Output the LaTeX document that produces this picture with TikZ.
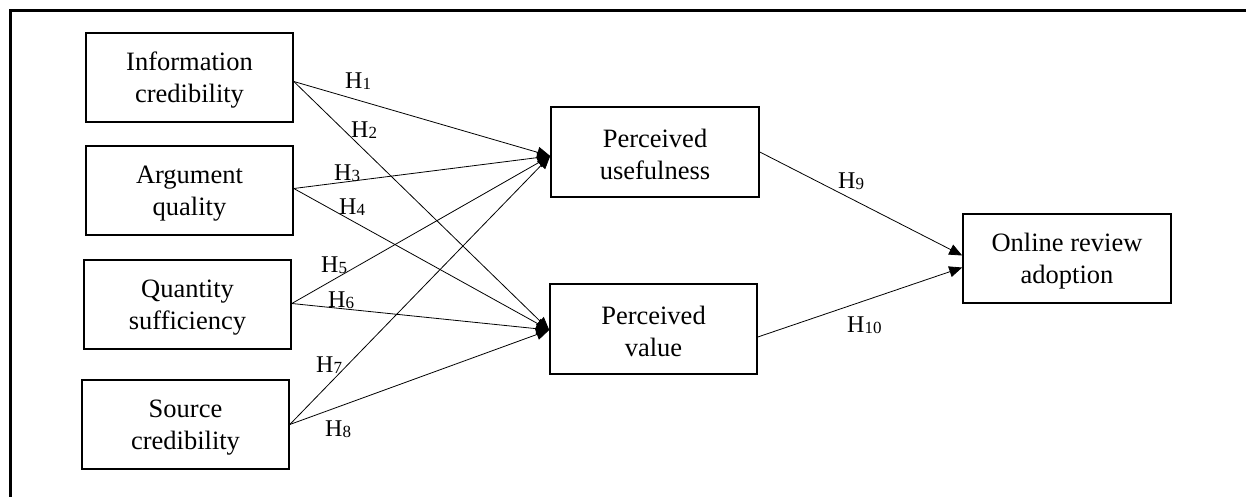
\documentclass[tikz,border=0pt]{standalone}
\usepackage{fontspec}
\setmainfont{Liberation Serif}
\usetikzlibrary{arrows.meta}
\newcommand{\hyp}[1]{H\raisebox{-1.5pt}{\fontsize{17}{17}\selectfont #1}}
\newcommand{\lowstrut}{\rule{0pt}{23pt}}
\tikzset{
  box/.style={draw, line width=1.6pt, minimum width=207pt, minimum height=89pt, inner sep=0pt,
    align=center, font=\fontsize{26.5}{32}\selectfont},
  conn/.style={line width=0.8pt, -{Triangle[length=13pt,width=11pt]}},
  hlab/.style={anchor=west, inner sep=0pt, font=\fontsize{24}{26}\selectfont}
}
\begin{document}
\begin{tikzpicture}[x=1pt,y=-1pt]
\useasboundingbox (0,0) rectangle (1246,497);
\begin{scope}
\clip (0,0) rectangle (1246,497);
\draw[line width=2.7pt] (10.5,530) -- (10.5,10.5) -- (1290,10.5);
\end{scope}
\node[box] (ic) at (189.5,77.5) {\lowstrut Information\\credibility};
\node[box] (aq) at (189.5,190.5) {\lowstrut Argument\\quality};
\node[box] (qs) at (187.5,304.5) {\lowstrut Quantity\\sufficiency};
\node[box] (sc) at (185.5,424.5) {\lowstrut Source\\credibility};
\node[box, minimum width=208pt, minimum height=90pt] (pu) at (655,152) {\lowstrut Perceived\\usefulness};
\node[box, minimum height=90pt] (pv) at (653.5,329) {\lowstrut Perceived\\value};
\node[box, minimum width=208pt] (ora) at (1067,258.5) {\lowstrut Online review\\adoption};
\coordinate (puin) at ([yshift=-4pt]pu.west);
\coordinate (pvin) at ([yshift=-1pt]pv.west);
\coordinate (icout) at ([yshift=-4pt]ic.east);
\coordinate (aqout) at ([yshift=2pt]aq.east);
\coordinate (qsout) at ([yshift=1pt]qs.east);
\coordinate (pvout) at ([yshift=-8pt]pv.east);
\coordinate (oraa) at ([yshift=3pt]ora.west);
\coordinate (orab) at ([yshift=-9pt]ora.west);
\draw[conn] (icout) -- (puin);
\draw[conn] (icout) -- (pvin);
\draw[conn] (aqout) -- (puin);
\draw[conn] (aqout) -- (pvin);
\draw[conn] (qsout) -- (puin);
\draw[conn] (qsout) -- (pvin);
\draw[conn] (sc.east) -- (puin);
\draw[conn] (sc.east) -- (pvin);
\draw[conn] (pu.east) -- (oraa);
\draw[conn] (pvout) -- (orab);
\node[hlab] (h1) at (345,81) {\hyp{1}};
\node[hlab] (h2) at (351,130) {\hyp{2}};
\node[hlab] (h3) at (334,173) {\hyp{3}};
\node[hlab] (h4) at (339,207) {\hyp{4}};
\node[hlab] (h5) at (321,265) {\hyp{5}};
\node[hlab] (h6) at (328,300) {\hyp{6}};
\node[hlab] (h7) at (316,365) {\hyp{7}};
\node[hlab] (h8) at (325,429) {\hyp{8}};
\node[hlab] (h9) at (838,181) {\hyp{9}};
\node[hlab] (h10) at (847,325) {\hyp{10}};
\end{tikzpicture}
\end{document}
